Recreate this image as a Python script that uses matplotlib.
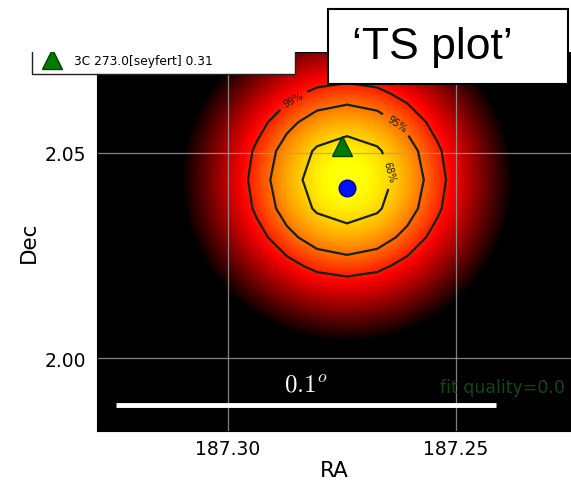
import numpy as np
import matplotlib
matplotlib.use("Agg")
import matplotlib.pyplot as plt
from matplotlib.patches import Rectangle

plt.rcParams['mathtext.fontset'] = 'cm'

# field of view (deg)
ra_range = (187.3287, 187.2248)
dec_range = (1.9823, 2.0745)
ra_ticks = [187.30, 187.25]
dec_ticks = [2.00, 2.05]

# TS surface: peak value, position and widths (deg)
ts_max = 33.0
ts_peak = (187.2739, 2.0434)
ts_width = (0.0269, 0.0292)
ts_display = (13.5, 39.2)   # colour range in TS

# confidence contours (2 dof)
conf_names = ['99%', '95%', '68%']
conf_dts = [9.21, 5.99, 2.30]

# fitted position and associated source
fit_pos = (187.2739, 2.0415)
src_pos = (187.2750, 2.0517)
src_label = '3C 273.0[seyfert] 0.31'
fit_quality = 0.0

# scale bar
bar_ra = (187.3246, 187.2412)
bar_dec = 1.9886
bar_text = r'$0.1^o$'


def tsmap(ra, dec):
    return ts_max * np.exp(-0.5 * (((ra - ts_peak[0]) / ts_width[0]) ** 2
                                   + ((dec - ts_peak[1]) / ts_width[1]) ** 2))


fig = plt.figure(figsize=(5.71, 4.81), dpi=100)
ax = fig.add_axes([0.170, 0.102, 0.830, 0.788])

# smooth map
cmap = plt.get_cmap('hot').with_extremes(under='black')
ra_f = np.linspace(ra_range[0], ra_range[1], 300)
dec_f = np.linspace(dec_range[0], dec_range[1], 300)
RA, DEC = np.meshgrid(ra_f, dec_f)
ax.imshow(tsmap(RA, DEC), origin='lower', cmap=cmap,
          vmin=ts_display[0], vmax=ts_display[1], interpolation='bilinear',
          extent=(ra_f[0], ra_f[-1], dec_f[0], dec_f[-1]), aspect='auto')

# contours come from the coarse tsmap grid
step_ra, step_dec = 0.0066, 0.0070
ra_c = ts_peak[0] + step_ra * np.arange(-7, 8)
dec_c = ts_peak[1] + step_dec * np.arange(-7, 8)
RC, DC = np.meshgrid(ra_c, dec_c)
levels = [ts_max - d for d in conf_dts]
cs = ax.contour(RC, DC, tsmap(RC, DC), levels=levels, colors='#14220c',
                linewidths=1.6, linestyles='solid')
ax.clabel(cs, fmt=dict(zip(levels, conf_names)), fontsize=7, colors='#14220c',
          manual=[(187.2857, 2.0629), (187.2629, 2.0573), (187.2638, 2.0459)])

ax.plot(fit_pos[0], fit_pos[1], 'o', color='#0010ff', markersize=12,
        markeredgecolor='#0000a0', zorder=5)
ax.plot(src_pos[0], src_pos[1], '^', color='#007a00', markersize=15,
        markeredgecolor='#004000', zorder=5, label=src_label)

ax.plot(bar_ra, [bar_dec, bar_dec], color='white', lw=3.5, solid_capstyle='butt')
ax.text(np.mean(bar_ra), bar_dec + 0.0021, bar_text, color='white',
        fontsize=18, ha='center', va='bottom')
ax.text(187.2261, 1.9930, 'fit quality=%.1f' % fit_quality, color='#175a17',
        fontsize=12.5, ha='right', va='center', alpha=0.8)

ax.set_xlim(ra_range)
ax.set_ylim(dec_range)
ax.set_xticks(ra_ticks)
ax.set_yticks(dec_ticks)
ax.set_xticklabels(['%.2f' % t for t in ra_ticks])
ax.grid(True, color='#a0a0a0', lw=0.9, alpha=0.8)
ax.tick_params(length=0, labelsize=13.5)
ax.tick_params(axis='x', pad=6)
ax.tick_params(axis='y', pad=8)
ax.set_xlabel('RA', fontsize=15.5, labelpad=1)
ax.set_ylabel('Dec', fontsize=15.5, labelpad=4)

fig.legend(loc='lower left', bbox_to_anchor=(0.056, 0.844, 0.461, 0.1),
           mode='expand', fontsize=8.8, fancybox=False, edgecolor='#202020',
           framealpha=1, borderpad=0.6, borderaxespad=0, handletextpad=0.8)

# white strip above the map
fig.add_artist(Rectangle((0, 1 - 53 / 481), 1, 1, transform=fig.transFigure,
                         facecolor='white', edgecolor='none', zorder=20))

# title box
fig.add_artist(Rectangle((328 / 571, 1 - 85 / 481), 240 / 571, 75 / 481,
                         transform=fig.transFigure, facecolor='white',
                         edgecolor='black', lw=1.5, zorder=21))
fig.text(432 / 571, 1 - 48 / 481, '\u2018TS plot\u2019', fontsize=32,
         family='Liberation Sans', ha='center', va='center', zorder=22)

fig.savefig('out.png', dpi=100)
